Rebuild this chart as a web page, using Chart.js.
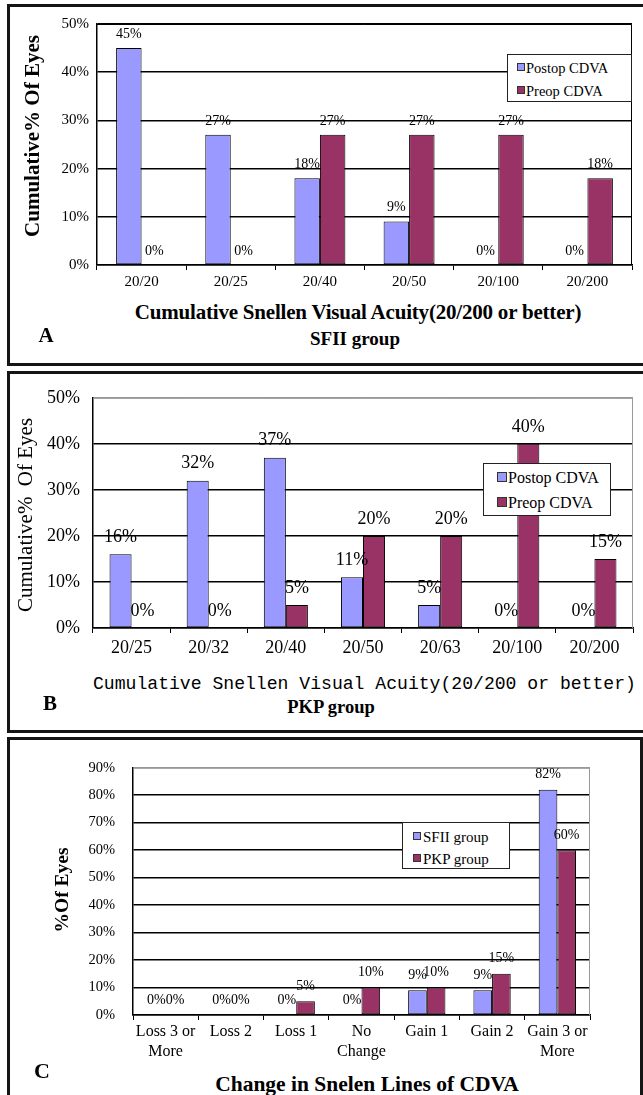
<!DOCTYPE html>
<html><head><meta charset="utf-8">
<script src="https://cdn.jsdelivr.net/npm/chart.js@4/dist/chart.umd.min.js"></script>
<style>
html,body{margin:0;padding:0;background:#fff;}
body{width:643px;height:1095px;position:relative;overflow:hidden;font-family:'Liberation Serif','Times New Roman',serif;color:#000;}
.panel{position:absolute;border:3px solid #151515;box-sizing:border-box;}
canvas{position:absolute;left:0;}
.t{position:absolute;white-space:nowrap;line-height:1;transform:translate(-50%,-50%);}
.r{transform:translate(-50%,-50%) rotate(-90deg);}
.b{font-weight:bold;}
.legend{position:absolute;border:1.5px solid #222;background:#fff;box-sizing:border-box;}
.li{position:absolute;white-space:nowrap;line-height:1;transform:translateY(-50%);}
.sw{position:absolute;border:1px solid #333;box-sizing:border-box;transform:translateY(-50%);}
</style></head>
<body>
<div class="panel" style="left:7px;top:4px;width:640px;height:362px;"></div>
<div class="panel" style="left:7px;top:371px;width:640px;height:362px;"></div>
<div class="panel" style="left:7px;top:737px;width:636px;height:370px;"></div>

<canvas id="cA" width="643" height="289" style="top:6px"></canvas>
<canvas id="cB" width="643" height="289" style="top:374px"></canvas>
<canvas id="cC" width="643" height="324" style="top:741px"></canvas>

<!-- Panel A texts -->
<div class="t r b" style="left:32px;top:136px;font-size:21px;">Cumulative% Of Eyes</div>
<div class="t b" style="left:358px;top:312px;font-size:21px;letter-spacing:-0.2px;">Cumulative Snellen Visual Acuity(20/200 or better)</div>
<div class="t b" style="left:46px;top:335px;font-size:21px;">A</div>
<div class="t b" style="left:355px;top:338px;font-size:19px;">SFII group</div>
<div class="legend" style="left:507px;top:54px;width:125px;height:48px;">
  <div class="sw" style="left:9px;top:12px;width:8px;height:8px;background:#9999FF"></div>
  <div class="li" style="left:18px;top:13px;font-size:14.5px;">Postop CDVA</div>
  <div class="sw" style="left:9px;top:35px;width:8px;height:8px;background:#993366"></div>
  <div class="li" style="left:18px;top:36px;font-size:14.5px;">Preop CDVA</div>
</div>

<!-- Panel B texts -->
<div class="t r" style="left:25px;top:515px;font-size:21px;">Cumulative%&nbsp; Of Eyes</div>
<div class="t" style="left:93px;top:684px;font-size:18.1px;font-family:'Liberation Mono',monospace;transform:translateY(-50%);">Cumulative Snellen Visual Acuity(20/200 or better)</div>
<div class="t b" style="left:50px;top:703px;font-size:21px;">B</div>
<div class="t b" style="left:331px;top:707px;font-size:18.5px;">PKP group</div>
<div class="legend" style="left:483px;top:463px;width:128px;height:53px;">
  <div class="sw" style="left:13px;top:13px;width:10px;height:10px;background:#9999FF"></div>
  <div class="li" style="left:24px;top:14px;font-size:16px;">Postop CDVA</div>
  <div class="sw" style="left:13px;top:38px;width:10px;height:10px;background:#993366"></div>
  <div class="li" style="left:24px;top:39px;font-size:16px;">Preop CDVA</div>
</div>

<!-- Panel C texts -->
<div class="t r b" style="left:62px;top:890px;font-size:19.5px;">%Of Eyes</div>
<div class="t b" style="left:367px;top:1085px;font-size:21.5px;">Change in Snelen Lines of CDVA</div>
<div class="t b" style="left:42px;top:1071px;font-size:22px;">C</div>
<div class="legend" style="left:402px;top:822px;width:108px;height:47px;">
  <div class="sw" style="left:10px;top:13px;width:8px;height:8px;background:#9999FF"></div>
  <div class="li" style="left:20px;top:14px;font-size:15px;">SFII group</div>
  <div class="sw" style="left:10px;top:35px;width:8px;height:8px;background:#993366"></div>
  <div class="li" style="left:20px;top:36px;font-size:15px;">PKP group</div>
</div>

<script>
// ---- Data ----
const catsA = ['20/20','20/25','20/40','20/50','20/100','20/200'];
const postopA = [45, 27, 18, 9, 0, 0];
const preopA  = [0, 0, 27, 27, 27, 18];

const catsB = ['20/25','20/32','20/40','20/50','20/63','20/100','20/200'];
const postopB = [16, 32, 37, 11, 5, 0, 0];
const preopB  = [0, 0, 5, 20, 20, 40, 15];

const catsC = [['Loss 3 or','More'], 'Loss 2', 'Loss 1', ['No','Change'], 'Gain 1', 'Gain 2', ['Gain 3 or','More']];
const sfiiC = [0, 0, 0, 0, 9, 9, 82];
const pkpC  = [0, 0, 5, 10, 10, 15, 60];

const maxA = 50, maxB = 50, maxC = 90, stepY = 10;

const BLUE = '#9999FF', MAROON = '#993366';
const SERIF = "'Liberation Serif','Times New Roman',serif";

const framePlugin = {
  id: 'frame',
  beforeDatasetsDraw(chart, args, o) {
    const {ctx, chartArea: a} = chart;
    ctx.save();
    ctx.strokeStyle = o.color; ctx.lineWidth = 1;
    ctx.beginPath();
    ctx.moveTo(a.left, a.top + 0.5);
    ctx.lineTo(a.right - 0.5, a.top + 0.5);
    ctx.lineTo(a.right - 0.5, a.bottom);
    ctx.stroke();
    ctx.restore();
  },
  afterDatasetsDraw(chart, args, o) {
    const ctx = chart.ctx;
    ctx.save();
    ctx.fillStyle = '#000';
    ctx.font = o.labelSize + 'px ' + SERIF;
    ctx.textAlign = 'center';
    ctx.textBaseline = 'middle';
    chart.data.datasets.forEach((ds, di) => {
      const meta = chart.getDatasetMeta(di);
      meta.data.forEach((el, i) => {
        ctx.fillText(ds.data[i] + '%', el.x, el.y - o.labelOff);
      });
    });
    ctx.restore();
  }
};

function makeChart(id, cats, s1, s2, cfg) {
  return new Chart(document.getElementById(id), {
    type: 'bar',
    data: {
      labels: cats,
      datasets: [
        {data: s1, backgroundColor: BLUE, borderColor: '#000', borderWidth: 1, borderSkipped: false, categoryPercentage: 2/3.5, barPercentage: 1},
        {data: s2, backgroundColor: MAROON, borderColor: '#000', borderWidth: 1, borderSkipped: false, categoryPercentage: 2/3.5, barPercentage: 1}
      ]
    },
    options: {
      responsive: false,
      animation: false,
      devicePixelRatio: 1,
      layout: {padding: {left: 0, right: cfg.padR, top: cfg.padT, bottom: 0}},
      plugins: {legend: {display: false}, tooltip: {enabled: false},
        frame: {color: cfg.frameColor, labelSize: cfg.labelSize, labelOff: cfg.labelOff}},
      scales: {
        x: {
          ticks: {padding: cfg.xPad, color: '#000', maxRotation: 0, autoSkip: false,
                  font: {family: SERIF, size: cfg.xSize, lineHeight: cfg.xLH}},
          grid: {display: true, drawOnChartArea: false, drawTicks: true, tickLength: 5, color: '#000', offset: true},
          border: {color: '#000', width: 1.5},
          afterFit(s) { s.height = cfg.xH; }
        },
        y: {
          min: 0, max: cfg.max,
          ticks: {stepSize: stepY, padding: cfg.yPad, color: '#000', callback: v => v + '%',
                  font: {family: SERIF, size: cfg.ySize}},
          grid: {drawTicks: false, lineWidth: 1.5,
                 color: c => (c.tick && c.tick.value === cfg.max) ? cfg.frameColor : '#000'},
          border: {color: '#000', width: 1.5},
          afterFit(s) { s.width = cfg.yW; }
        }
      }
    },
    plugins: [framePlugin]
  });
}

makeChart('cA', catsA, postopA, preopA, {max: maxA, padR: 11, padT: 18, xH: 30, yW: 97, xPad: 3, xSize: 15, xLH: 1.2, ySize: 15, yPad: 8, labelSize: 14, labelOff: 14, frameColor: '#000'});
makeChart('cB', catsB, postopB, preopB, {max: maxB, padR: 10, padT: 23, xH: 35, yW: 93, xPad: 4, xSize: 18, xLH: 1.2, ySize: 18, yPad: 13, labelSize: 18, labelOff: 17, frameColor: '#999'});
makeChart('cC', catsC, sfiiC, pkpC, {max: maxC, padR: 53, padT: 20, xH: 50, yW: 133, xPad: 2, xSize: 16, xLH: 1.25, ySize: 14.5, yPad: 18, labelSize: 14, labelOff: 15, frameColor: '#999'});
</script>
</body></html>
